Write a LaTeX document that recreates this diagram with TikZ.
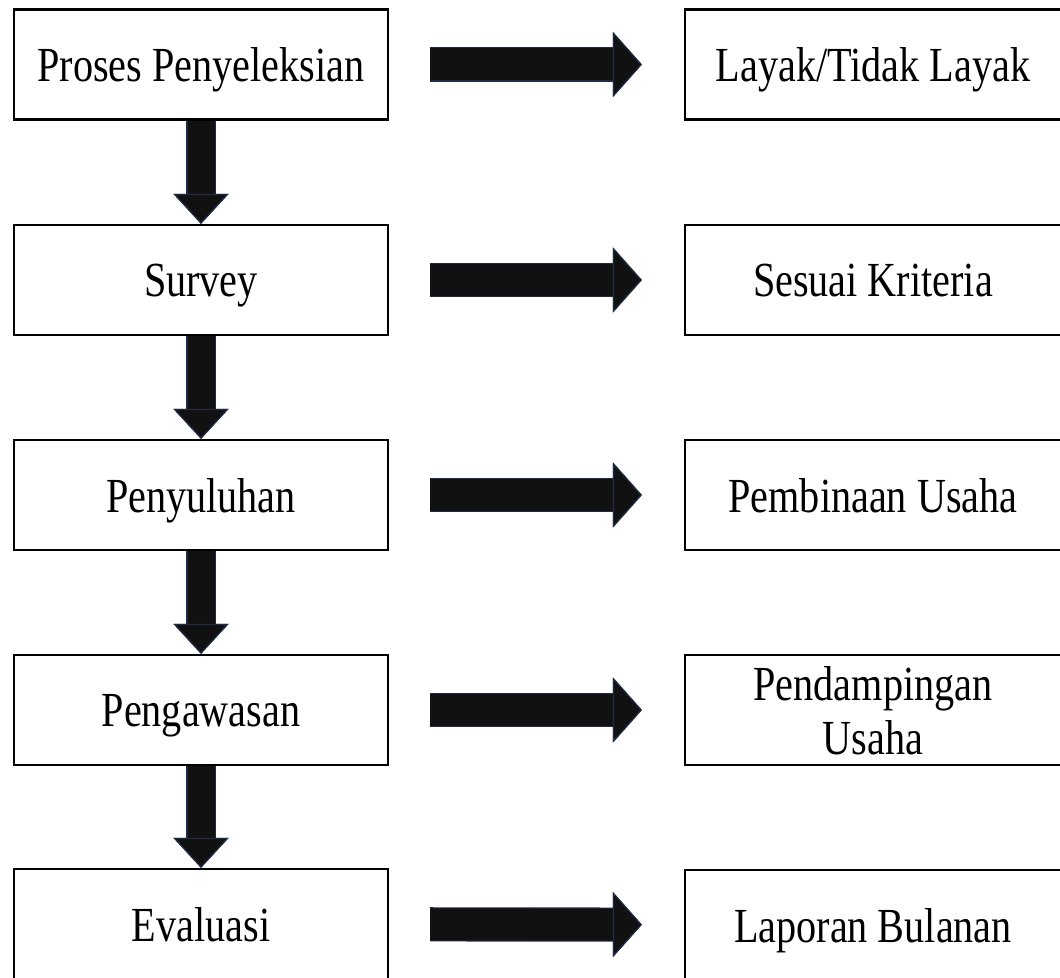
\documentclass[tikz,border=0pt]{standalone}
\usepackage{fontspec}
\setmainfont{Liberation Serif}[FakeStretch=0.82]
\usetikzlibrary{arrows.meta}
\definecolor{arrowfill}{HTML}{111111}
\definecolor{arrowline}{HTML}{1F2B45}

\begin{document}
\begin{tikzpicture}[x=0.5pt, y=-0.5pt]
                    \tikzset{box/.style={draw, line width=1.1pt, minimum width=187pt, minimum height=55pt, inner sep=0pt, align=center, text depth=0pt, font=\fontsize{24.5}{27}\selectfont}}
                    \tikzset{downflow/.style={draw=arrowfill, line width=13.5pt, -{Triangle[length=15pt, width=27.5pt, line width=0.6pt, fill=arrowfill, color=arrowline]}, preaction={draw=arrowline, line width=14.6pt}}}
                    \tikzset{rightflow/.style={draw=arrowfill, line width=16pt, -{Triangle[length=14.5pt, width=32.5pt, line width=0.6pt, fill=arrowfill, color=arrowline]}, shorten <=20.5pt, shorten >=21pt, preaction={draw=arrowline, line width=17.1pt}}}
                    \useasboundingbox (0,0) rectangle (1060,978);
                    \clip (0,0) rectangle (1060,978);

                    \node[box] (seleksi) at (201, 64.5) {Proses Penyeleksian};
                    \node[box] (survey) at (201, 280) {Survey};
                    \node[box] (penyuluhan) at (201, 495) {Penyuluhan};
                    \node[box] (pengawasan) at (201, 710) {Pengawasan};
                    \node[box] (evaluasi) at (201, 924) {Evaluasi};

                    \node[box, minimum width=188pt] (layak) at (873, 64.5) {Layak/Tidak Layak};
                    \node[box, minimum width=188pt] (kriteria) at (873, 280) {Sesuai Kriteria};
                    \node[box, minimum width=188pt] (pembinaan) at (873, 495) {Pembinaan Usaha};
                    \node[box, minimum width=188pt] (pendampingan) at (873, 710) {Pendampingan\\Usaha};
                    \node[box, minimum width=188pt] (laporan) at (873, 925) {Laporan Bulanan};

                    \path
                        (seleksi) edge[downflow] (survey)
                            edge[rightflow] (layak)
                        (survey) edge[downflow] (penyuluhan)
                            edge[rightflow] (kriteria)
                        (penyuluhan) edge[downflow] (pengawasan)
                            edge[rightflow] (pembinaan)
                        (pengawasan) edge[downflow] (evaluasi)
                            edge[rightflow] (pendampingan)
                        (evaluasi) edge[rightflow] (laporan);
                \end{tikzpicture}
\end{document}
